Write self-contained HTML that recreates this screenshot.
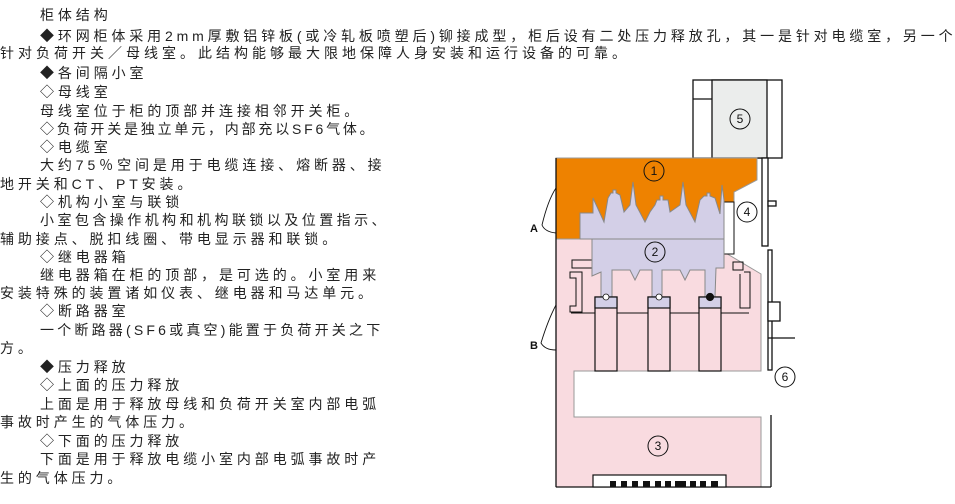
<!DOCTYPE html>
<html><head><meta charset="utf-8"><style>
body{margin:0;width:955px;height:504px;background:#fff;position:relative;overflow:hidden;font-family:"Liberation Sans","Noto Sans CJK SC",sans-serif;}
.t{position:absolute;font-size:14px;line-height:18px;letter-spacing:3.9px;color:#222;white-space:nowrap;}
svg{position:absolute;left:0;top:0}
</style></head><body>
<div class="t" style="left:40px;top:6px">柜体结构</div>
<div class="t" style="left:40px;top:27px;letter-spacing:3.85px">◆环网柜体采用2mm厚敷铝锌板(或冷轧板喷塑后)铆接成型，柜后设有二处压力释放孔，其一是针对电缆室，另一个</div>
<div class="t" style="left:0px;top:44px;letter-spacing:4.0px">针对负荷开关／母线室。此结构能够最大限地保障人身安装和运行设备的可靠。</div>
<div class="t" style="left:40px;top:64px">◆各间隔小室</div>
<div class="t" style="left:40px;top:83px">◇母线室</div>
<div class="t" style="left:40px;top:102px">母线室位于柜的顶部并连接相邻开关柜。</div>
<div class="t" style="left:40px;top:120px;letter-spacing:2.8px">◇负荷开关是独立单元，内部充以SF6气体。</div>
<div class="t" style="left:40px;top:138px">◇电缆室</div>
<div class="t" style="left:40px;top:156px">大约75％空间是用于电缆连接、熔断器、接</div>
<div class="t" style="left:0px;top:175px">地开关和CT、PT安装。</div>
<div class="t" style="left:40px;top:193px">◇机构小室与联锁</div>
<div class="t" style="left:40px;top:211px;letter-spacing:3.45px">小室包含操作机构和机构联锁以及位置指示、</div>
<div class="t" style="left:0px;top:230px">辅助接点、脱扣线圈、带电显示器和联锁。</div>
<div class="t" style="left:40px;top:248px">◇继电器箱</div>
<div class="t" style="left:40px;top:266px">继电器箱在柜的顶部，是可选的。小室用来</div>
<div class="t" style="left:0px;top:284px">安装特殊的装置诸如仪表、继电器和马达单元。</div>
<div class="t" style="left:40px;top:302px">◇断路器室</div>
<div class="t" style="left:40px;top:321px;letter-spacing:3.2px">一个断路器(SF6或真空)能置于负荷开关之下</div>
<div class="t" style="left:0px;top:339px">方。</div>
<div class="t" style="left:40px;top:358px">◆压力释放</div>
<div class="t" style="left:40px;top:376px">◇上面的压力释放</div>
<div class="t" style="left:40px;top:395px">上面是用于释放母线和负荷开关室内部电弧</div>
<div class="t" style="left:0px;top:413px">事故时产生的气体压力。</div>
<div class="t" style="left:40px;top:432px">◇下面的压力释放</div>
<div class="t" style="left:40px;top:450px">下面是用于释放电缆小室内部电弧事故时产</div>
<div class="t" style="left:0px;top:469px">生的气体压力。</div>

<svg width="955" height="504" viewBox="0 0 955 504">
<g stroke="#111" stroke-width="1.3" fill="none">
<rect x="693" y="80" width="89" height="78" fill="#fff"/>
<rect x="712" y="80" width="55" height="78" fill="#ebedec"/>
<line x1="693" y1="99" x2="712" y2="99"/>
<rect x="762" y="158" width="6" height="88" fill="#fff"/>
<rect x="768" y="250" width="4" height="120" fill="#fff"/>
<rect x="768" y="302" width="12" height="19" fill="#fff"/>
<line x1="768" y1="338" x2="795" y2="338"/>
<rect x="768" y="201" width="8" height="5" fill="#fff"/>
</g>
<polygon points="556,158 757,158 757,180 734,192 734,239 556,239" fill="#ee8200" stroke="#999" stroke-width="1"/>
<polygon points="556,239 724,239 724,252 761,274 761,371 574,371 574,417 761,417 761,487 556,487" fill="#f9dbe0" stroke="#999" stroke-width="1"/>
<line x1="556" y1="158" x2="556" y2="487" stroke="#111" stroke-width="1.3"/>
<line x1="556" y1="487" x2="771" y2="487" stroke="#111" stroke-width="1.3"/>
<line x1="771" y1="415" x2="771" y2="487" stroke="#111" stroke-width="1.3"/>
<rect x="724" y="202" width="10" height="52" fill="#fff" stroke="#111" stroke-width="1"/>
<g stroke="#111" stroke-width="1" fill="none">
<rect x="572" y="260" width="20" height="8"/>
<path d="M570 272 h12 v40 h-12 v-6 h6 v-28 h-6z"/>
<rect x="733" y="262" width="10" height="8"/>
<path d="M744 272 h6 v36 h-10 v-34"/>
<path d="M571 313 h178"/>
</g>
<polygon points="580,239 580,213 593,213 593,198 604,222 608,198 611,193 613,193 613,190 616,190 616,193 620,195 624,212 630,205 633,182 636,205 645,222 650,212 655,205 657,200 660,200 660,196 663,196 663,200 668,200 670,212 680,205 683,182 686,205 695,222 700,200 704,196 707,196 707,193 710,193 710,196 715,198 720,214 722,185 724,200 724,239" fill="#d3cfe7" stroke="#888" stroke-width="1"/>
<polygon points="592,239 724,239 724,268 716,268 715,297 705,297 705,270 690,270 685,280 680,270 662,270 662,297 652,297 652,270 640,270 635,280 630,270 612,270 612,297 601,297 601,272 592,276" fill="#d3cfe7" stroke="#888" stroke-width="1"/>
<g stroke="#111" stroke-width="1.2">
<rect x="595" y="297" width="22" height="74" fill="#f9dbe0"/>
<rect x="648" y="297" width="22" height="74" fill="#f9dbe0"/>
<rect x="699" y="297" width="22" height="74" fill="#f9dbe0"/>
<rect x="595" y="297" width="22" height="11" fill="#d3cfe7"/>
<rect x="648" y="297" width="22" height="11" fill="#d3cfe7"/>
<rect x="699" y="297" width="22" height="11" fill="#d3cfe7"/>
<circle cx="606" cy="297" r="3" fill="#fff" stroke-width="0.8"/>
<circle cx="659" cy="297" r="3" fill="#fff" stroke-width="0.8"/>
<circle cx="710" cy="297" r="3.5" fill="#111"/>
</g>
<rect x="593" y="475" width="133" height="12" fill="#fff" stroke="#111" stroke-width="1.2"/>
<g fill="#111">
<rect x="610" y="481" width="6" height="6"/><rect x="621" y="481" width="6" height="6"/><rect x="632" y="481" width="6" height="6"/><rect x="643" y="481" width="7" height="6"/><rect x="655" y="481" width="6" height="6"/><rect x="665" y="481" width="6" height="6"/><rect x="675" y="481" width="11" height="6"/><rect x="690" y="481" width="6" height="6"/><rect x="700" y="481" width="6" height="6"/><rect x="711" y="481" width="7" height="6"/>
</g>
<g stroke="#111" stroke-width="1" fill="none" font-family="Liberation Sans,sans-serif" font-size="12" text-anchor="middle">
<circle cx="740" cy="119" r="10"/><text x="740" y="123" fill="#111" stroke="none">5</text>
<circle cx="654" cy="171" r="10"/><text x="654" y="175" fill="#111" stroke="none">1</text>
<circle cx="655" cy="252" r="10"/><text x="655" y="256" fill="#111" stroke="none">2</text>
<circle cx="747" cy="212" r="10" fill="#fff"/><text x="747" y="216" fill="#111" stroke="none">4</text>
<circle cx="785" cy="377" r="10"/><text x="785" y="381" fill="#111" stroke="none">6</text>
<circle cx="658" cy="446" r="10"/><text x="658" y="450" fill="#111" stroke="none">3</text>
</g>
<path d="M556 188 Q548 200 542 225 Q545 232 556 233" stroke="#111" fill="none" stroke-width="0.9"/>
<path d="M556 305 Q548 320 541 343 Q545 350 556 350" stroke="#111" fill="none" stroke-width="0.9"/>
<text x="530" y="232" font-family="Liberation Sans,sans-serif" font-weight="bold" font-size="11" fill="#111">A</text>
<text x="530" y="349" font-family="Liberation Sans,sans-serif" font-weight="bold" font-size="11" fill="#111">B</text>
</svg>
</body></html>
